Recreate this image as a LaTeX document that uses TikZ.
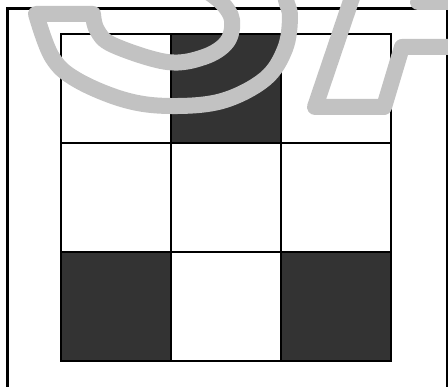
\documentclass[tikz,border=0pt]{standalone}
\usepackage{xcolor}
\definecolor{darkcell}{HTML}{333333}
\definecolor{glyphgray}{HTML}{C2C2C2}
\begin{document}
\begin{tikzpicture}[x=1pt,y=-1pt,
  cellline/.style={line width=2pt,black},
  framelines/.style={line width=3pt,black},
  glyph/.style={line width=16pt,glyphgray,line join=round,line cap=round}]
\useasboundingbox (0,0) rectangle (448,387);
\clip (0,0) rectangle (448,387);
\fill[white] (0,0) rectangle (448,387);
% frame
\draw[framelines] (7,9) rectangle (447,420);
% dark cells
\fill[darkcell] (171,34) rectangle (281,143);
\fill[darkcell] (61,252) rectangle (171,361);
\fill[darkcell] (281,252) rectangle (391,361);
% grid
\draw[cellline] (61,34) rectangle (391,361);
\draw[cellline] (171,34) -- (171,361);
\draw[cellline] (281,34) -- (281,361);
\draw[cellline] (61,143) -- (391,143);
\draw[cellline] (61,252) -- (391,252);
% S outline
\draw[glyph] plot[smooth,tension=0.6] coordinates {(283,-20) (286,0) (290,17) (285,49) (265,79) (222,101) (170,106) (125,100) (77,80) (52,57) (36,14)}
  -- (93,14)
  -- plot[smooth,tension=0.6] coordinates {(93,14) (97,30) (113,45) (167,62) (204,57) (227,42) (232,20) (222,3) (205,-10)};
% F outline
\draw[glyph] (358,-20) -- (315,107) -- (384,107) -- (402,47) -- (470,47);
\draw[glyph] (470,2) -- (418,2) -- (425,-20);
\end{tikzpicture}
\end{document}
